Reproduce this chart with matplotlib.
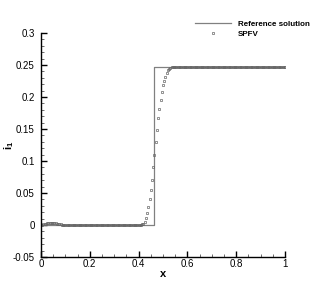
import numpy as np
import matplotlib
matplotlib.use('Agg')
import matplotlib.pyplot as plt
from matplotlib.ticker import MultipleLocator

plt.rcParams['font.family'] = ['Liberation Sans', 'DejaVu Sans']
plt.rcParams['mathtext.fontset'] = 'custom'
plt.rcParams['mathtext.bf'] = 'Liberation Sans:bold'
plt.rcParams['mathtext.rm'] = 'Liberation Sans'

# reference (exact) solution: step profile
ref_x = [0.0, 0.465, 0.465, 1.0]
ref_y = [0.0, 0.0, 0.2466, 0.2466]

# SPFV solution points on the solver grid (spacing 0.005)
spfv_x = np.linspace(0.0, 1.0, 201)
spfv_y = [
    0.0, 0.0005, 0.001, 0.0015, 0.002, 0.0024, 0.0027, 0.0029, 0.003, 0.003,
    0.0029, 0.0027, 0.0024, 0.002, 0.0016, 0.0012, 0.0008, 0.0005, 0.0002, 0.0,
    -0.0002, -0.0003, -0.0004, -0.0005, -0.0005, -0.0006, -0.0006, -0.0006, -0.0006, -0.0006,
    -0.0006, -0.0006, -0.0006, -0.0006, -0.0006, -0.0006, -0.0006, -0.0006, -0.0006, -0.0006,
    -0.0006, -0.0006, -0.0006, -0.0006, -0.0006, -0.0006, -0.0006, -0.0006, -0.0006, -0.0006,
    -0.0006, -0.0006, -0.0006, -0.0006, -0.0006, -0.0006, -0.0006, -0.0006, -0.0006, -0.0006,
    -0.0006, -0.0006, -0.0006, -0.0006, -0.0006, -0.0005, -0.0005, -0.0005, -0.0005, -0.0005,
    -0.0005, -0.0004, -0.0004, -0.0004, -0.0003, -0.0003, -0.0002, -0.0002, -0.0001, 0.0,
    0.0, 0.0002, 0.0005, 0.001, 0.002, 0.005, 0.011, 0.019, 0.028, 0.040,
    0.054, 0.071, 0.090, 0.110, 0.130, 0.149, 0.167, 0.182, 0.196, 0.208,
    0.218, 0.225, 0.232, 0.2375, 0.242, 0.2445, 0.2458, 0.2463, 0.2466, 0.2466,
    0.2466, 0.2466, 0.2466, 0.2466, 0.2466, 0.2466, 0.2466, 0.2466, 0.2466, 0.2466,
    0.2466, 0.2466, 0.2466, 0.2466, 0.2466, 0.2466, 0.2466, 0.2466, 0.2466, 0.2466,
    0.2466, 0.2466, 0.2466, 0.2466, 0.2466, 0.2466, 0.2466, 0.2466, 0.2466, 0.2466,
    0.2466, 0.2466, 0.2466, 0.2466, 0.2466, 0.2466, 0.2466, 0.2466, 0.2466, 0.2466,
    0.2466, 0.2466, 0.2466, 0.2466, 0.2466, 0.2466, 0.2466, 0.2466, 0.2466, 0.2466,
    0.2466, 0.2466, 0.2466, 0.2466, 0.2466, 0.2466, 0.2466, 0.2466, 0.2466, 0.2466,
    0.2466, 0.2466, 0.2466, 0.2466, 0.2466, 0.2466, 0.2466, 0.2466, 0.2466, 0.2466,
    0.2466, 0.2466, 0.2466, 0.2466, 0.2466, 0.2466, 0.2466, 0.2466, 0.2466, 0.2466,
    0.2466, 0.2466, 0.2466, 0.2466, 0.2466, 0.2466, 0.2466, 0.2466, 0.2466, 0.2466,
    0.2466,
]

x_ticks = [0, 0.2, 0.4, 0.6, 0.8, 1]
x_tick_labels = ['0', '0.2', '0.4', '0.6', '0.8', '1']
y_ticks = [-0.05, 0, 0.05, 0.1, 0.15, 0.2, 0.25, 0.3]
y_tick_labels = ['-0.05', '0', '0.05', '0.1', '0.15', '0.2', '0.25', '0.3']

fig = plt.figure(figsize=(3.23, 2.87), dpi=100)
ax = fig.add_axes([41 / 323, 1 - 257 / 287, 244 / 323, 224 / 287])

ax.plot(ref_x, ref_y, color='#808080', lw=0.9, label='Reference solution')
ax.plot(spfv_x, spfv_y, ls='none', marker='s', ms=2.0, mfc='none',
        mec='#666666', mew=0.5, label='SPFV')

ax.set_xlim(0, 1)
ax.set_ylim(-0.05, 0.3)
ax.set_xticks(x_ticks)
ax.set_xticklabels(x_tick_labels)
ax.set_yticks(y_ticks)
ax.set_yticklabels(y_tick_labels)
ax.xaxis.set_minor_locator(MultipleLocator(0.05))
ax.yaxis.set_minor_locator(MultipleLocator(0.01))

for side in ['top', 'right']:
    ax.spines[side].set_visible(False)
for side in ['left', 'bottom']:
    ax.spines[side].set_linewidth(1.0)

ax.tick_params(which='major', direction='in', length=4.5, width=1.0, labelsize=7)
ax.tick_params(axis='x', which='major', pad=1.5)
ax.tick_params(axis='y', which='major', pad=4.5)
ax.tick_params(which='minor', direction='in', length=2.5, width=0.6, color='#555555')

ax.set_xlabel('x', fontsize=8, fontweight='bold')
ax.xaxis.set_label_coords(0.5, -0.054)
ax.set_ylabel(r'$\mathbf{i_1}$', fontsize=8)
ax.yaxis.set_label_coords(-0.104, 0.5)

ax.legend(loc='upper left', bbox_to_anchor=(195 / 323, 1 - 20 / 287),
          bbox_transform=fig.transFigure, frameon=False, borderpad=0,
          borderaxespad=0, handlelength=4.5, handletextpad=0.8,
          labelspacing=0.35, prop={'size': 5.8, 'weight': 'bold'})

fig.savefig('out.png', dpi=100)
